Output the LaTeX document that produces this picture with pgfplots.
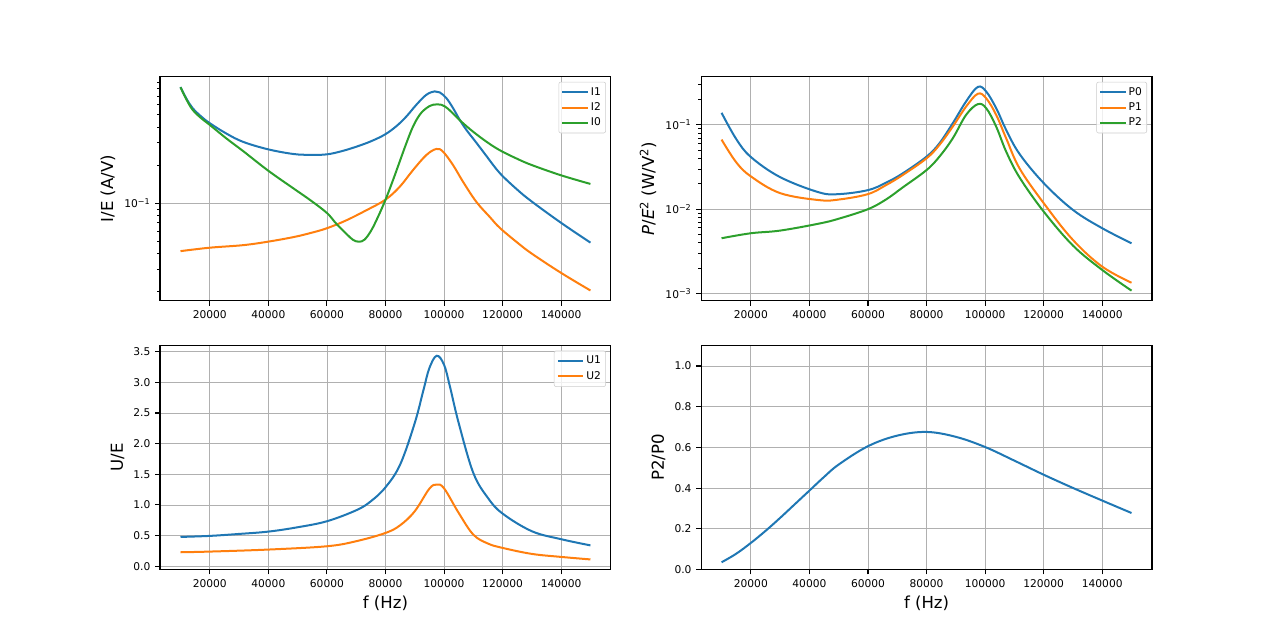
\documentclass[border=0pt]{standalone}
\usepackage{fontspec}
\setmainfont{DejaVu Sans}
\usepackage{pgfplots}
\pgfplotsset{compat=1.18}

\definecolor{mplblue}{HTML}{1F77B4}
\definecolor{mplorange}{HTML}{FF7F0E}
\definecolor{mplgreen}{HTML}{2CA02C}
\definecolor{mplgrid}{HTML}{B0B0B0}

\newcommand{\tenp}[1]{\mbox{10\textsuperscript{#1}}}

\pgfplotsset{
  curve/.style={#1, line width=1.5pt, smooth, tension=0.6, no markers},
  mpl/.style={
    scale only axis,
    width=338.2pt, height=168pt,
    xmin=3000, xmax=157000,
    xtick={20000,40000,60000,80000,100000,120000,140000},
    xticklabels={20000,40000,60000,80000,100000,120000,140000},
    axis line style={line width=0.8pt},
    tick align=outside,
    xtick pos=bottom, ytick pos=left,
    major tick length=3.65pt,
    minor tick length=2.08pt,
    every tick/.style={black, line width=0.8pt},
    every minor tick/.style={black, line width=0.6pt},
    grid=major,
    major grid style={mplgrid, line width=0.6pt},
    tick label style={font=\fontsize{8}{9.6}\selectfont},
    label style={font=\fontsize{12.4}{14}\selectfont},
    scaled x ticks=false,
    legend cell align=left,
    legend image code/.code={\path (0pt,0pt) -- (19pt,0pt);
                             \draw[##1] (1pt,0pt) -- (14.5pt,0pt);},
    legend style={
      at={(rel axis cs:1,1)}, xshift=-3.75pt, yshift=-3.75pt,
      anchor=north east,
      font=\fontsize{8}{9.6}\selectfont,
      draw=black!20, rounded corners=1.5pt,
      fill=white, fill opacity=0.8, text opacity=1, draw opacity=1,
      inner sep=2pt,
      nodes={inner sep=1.6pt, text height=6.2pt, text depth=2pt},
    },
  },
}

\begin{document}
\begin{tikzpicture}
\useasboundingbox (0,0) rectangle (960pt,480pt);

% I/E
\begin{axis}[mpl, at={(120pt,254.4pt)}, anchor=south west,
  ymode=log, ymin=0.017, ymax=0.994,
  ytick={0.1}, yticklabels={\tenp{−1}},
  minor ytick={0.02,0.03,0.04,0.05,0.06,0.07,0.08,0.09,0.2,0.3,0.4,0.5,0.6,0.7,0.8,0.9},
  ylabel={I/E (A/V)}]
\addplot[curve=mplblue] coordinates {
(10000,0.826) (12000,0.670) (14138,0.563) (17000,0.485) (20000,0.428) (25632,0.355)
(31379,0.305) (40000,0.266) (48620,0.2445) (54367,0.241) (60000,0.243) (65470,0.259)
(71168,0.285) (75727,0.313) (79943,0.350) (83704,0.405) (87122,0.483) (90541,0.598)
(93960,0.717) (96809,0.763) (98518,0.749) (100797,0.675) (103077,0.563) (105356,0.455)
(107635,0.379) (111054,0.300) (114472,0.236) (119031,0.173) (125000,0.128) (130000,0.103)
(140000,0.0700) (150000,0.0489)};
\addplot[curve=mplorange] coordinates {
(10000,0.0419) (20000,0.0446) (31379,0.0467) (40000,0.0498) (48620,0.0541) (54367,0.0582)
(60000,0.0635) (66610,0.0733) (73447,0.088) (79943,0.1065) (84843,0.1347) (89401,0.1826)
(93960,0.240) (97378,0.268) (99658,0.255) (103077,0.200) (106495,0.1476) (111054,0.1024)
(115612,0.078) (119031,0.064) (125000,0.049) (130000,0.040) (140000,0.0282) (150000,0.0205)};
\addplot[curve=mplgreen] coordinates {
(10000,0.822) (12000,0.660) (14138,0.546) (17000,0.470) (20000,0.415) (25632,0.325)
(31379,0.258) (40000,0.1804) (48620,0.1307) (54367,0.1056) (60000,0.0838) (63191,0.069)
(66610,0.0575) (68889,0.0515) (70940,0.0497) (72878,0.0517) (75157,0.0611) (77436,0.078)
(79943,0.1056) (82564,0.152) (84843,0.2126) (87122,0.297) (89401,0.4025) (91681,0.498)
(93960,0.5626) (96239,0.598) (99088,0.598) (101367,0.556) (103646,0.494) (106495,0.428)
(109914,0.367) (114472,0.306) (119031,0.262) (125000,0.224) (130000,0.200) (140000,0.166)
(150000,0.142)};
\legend{I1,I2,I0}
\end{axis}

% P/E^2
\begin{axis}[mpl, at={(525.8pt,254.4pt)}, anchor=south west,
  ymode=log, ymin=0.000818, ymax=0.372,
  ytick={0.001,0.01,0.1},
  yticklabels={\tenp{−3},\tenp{−2},\tenp{−1}},
  minor ytick={0.002,0.003,0.004,0.005,0.006,0.007,0.008,0.009,0.02,0.03,0.04,0.05,0.06,0.07,0.08,0.09,0.2,0.3},
  ylabel={{\itshape P}/{\itshape E}\textsuperscript{2} (W/V\textsuperscript{2})}]
\addplot[curve=mplblue] coordinates {
(10000,0.139) (15000,0.068) (20000,0.0416) (30000,0.0240) (43356,0.0158) (50195,0.0151)
(60000,0.01683) (66156,0.0206) (71856,0.0266) (80000,0.042) (84396,0.0605) (88956,0.1047)
(93516,0.19) (97506,0.282) (100356,0.249) (103776,0.158) (107196,0.0872) (111756,0.0452)
(120000,0.0204) (130000,0.0098) (140000,0.00594) (150000,0.00394)};
\addplot[curve=mplorange] coordinates {
(10000,0.0669) (15000,0.036) (20000,0.0245) (30000,0.0155) (43356,0.0128) (50195,0.01303)
(60000,0.0151) (66156,0.0193) (71856,0.0254) (80000,0.0401) (84396,0.0578) (88956,0.0955)
(93516,0.165) (97506,0.234) (100356,0.207) (103776,0.1316) (107196,0.0693) (111756,0.0305)
(120000,0.0118) (130000,0.00431) (140000,0.00208) (150000,0.00134)};
\addplot[curve=mplgreen] coordinates {
(10000,0.00452) (20000,0.00518) (30000,0.00557) (43356,0.00675) (50195,0.00774) (60000,0.0100)
(66156,0.01303) (71856,0.0181) (80000,0.0291) (84396,0.042) (88956,0.0693) (93516,0.1316)
(97506,0.176) (100356,0.158) (103776,0.0955) (107196,0.0482) (111756,0.0238) (120000,0.00937)
(130000,0.0037) (140000,0.0019) (150000,0.00108)};
\legend{P0,P1,P2}
\end{axis}

% U/E
\begin{axis}[mpl, at={(120pt,52.8pt)}, anchor=south west,
  ymin=-0.055, ymax=3.6,
  ytick={0,0.5,1,1.5,2,2.5,3,3.5},
  yticklabels={0.0,0.5,1.0,1.5,2.0,2.5,3.0,3.5},
  xlabel={f (Hz)}, ylabel={U/E}]
\addplot[curve=mplblue] coordinates {
(10000,0.478) (20000,0.495) (30000,0.527) (40000,0.565) (50000,0.636) (60000,0.734)
(70000,0.913) (75000,1.06) (80000,1.288) (85000,1.658) (90000,2.337) (93000,2.88)
(95000,3.234) (97500,3.434) (100000,3.288) (102000,2.935) (105000,2.337) (110000,1.522)
(115000,1.114) (120000,0.859) (130000,0.571) (140000,0.441) (150000,0.340)};
\addplot[curve=mplorange] coordinates {
(10000,0.228) (20000,0.239) (40000,0.272) (60000,0.326) (70000,0.408) (80000,0.543)
(85000,0.668) (90000,0.897) (95000,1.266) (97500,1.332) (100000,1.272) (105000,0.870)
(110000,0.516) (115000,0.370) (120000,0.299) (130000,0.201) (140000,0.152) (150000,0.111)};
\legend{U1,U2}
\end{axis}

% P2/P0
\begin{axis}[mpl, at={(525.8pt,52.8pt)}, anchor=south west,
  ymin=0, ymax=1.1,
  ytick={0,0.2,0.4,0.6,0.8,1},
  yticklabels={0.0,0.2,0.4,0.6,0.8,1.0},
  xlabel={f (Hz)}, ylabel={P2/P0}]
\addplot[curve=mplblue] coordinates {
(10000,0.036) (15000,0.078) (20000,0.131) (25000,0.19) (30000,0.254) (35000,0.321)
(40000,0.388) (45000,0.455) (50000,0.516) (60000,0.606) (70000,0.658) (80000,0.676)
(90000,0.652) (100000,0.602) (110000,0.535) (120000,0.466) (130000,0.401) (140000,0.339)
(150000,0.278)};
\end{axis}
\end{tikzpicture}
\end{document}
